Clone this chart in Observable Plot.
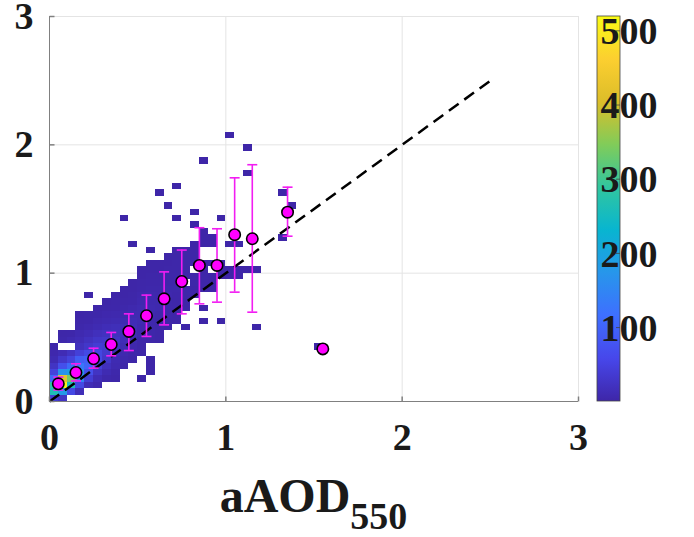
<!DOCTYPE html>
<html><head><meta charset="utf-8">
<script src="https://cdn.jsdelivr.net/npm/d3@7"></script>
<script src="https://cdn.jsdelivr.net/npm/@observablehq/plot@0.6"></script>
<style>body{margin:0;background:#fff;} #chart{width:694px;height:537px;}</style>
</head><body><div id="chart"></div>
<script>
// ---------- data ----------
const BIN = 0.05; // 2-D histogram bin size (both axes)
// dense columns: x-bin index, first y-bin index, counts of consecutive y-bins (0 = empty)
const colI  = [0,1,2,3,4,5,6,7,8,9,10,11,12,13,14,15,16,17,18,19];
const colJ0 = [0,0,1,1,2,2,3,3,5,6,7,4,9,11,12,14,16,17,17,19];
const colCounts = [
  [40,260,280,110,50,25,10,5,3],
  [25,180,510,420,170,70,30,12,0,4,2],
  [60,260,340,190,110,50,25,0,8,3],
  [15,60,150,170,130,90,45,20,12,8,4,2,1],
  [12,40,70,100,95,60,30,20,12,6,3,2,0,0,1],
  [5,12,25,45,60,55,40,28,18,10,6,3,1],
  [4,10,18,30,35,35,30,22,14,8,5,2,1],
  [2,4,8,10,15,20,25,20,16,10,6,3,2,1],
  [2,4,6,10,14,16,14,10,6,4,2,1,1],
  [1,3,5,8,12,13,12,9,6,3,2,1,1],
  [1,2,3,5,7,9,10,9,7,5,3,2,1,1],
  [1,1,1,0,0,2,3,4,5,7,8,7,6,4,3,2,1,1],
  [1,1,2,3,4,6,6,5,4,3,2,1,1],
  [1,1,2,3,4,5,4,3,2,2,1,1],
  [1,1,2,2,3,4,3,3,2,2,1,1],
  [1,1,2,2,0,3,2,2,1,1],
  [1,1,2,2,0,2,1,1,1],
  [1,2,2,1,1,0,0,1,1,1],
  [1,1,1,0,1,0,0,1,1],
  [1,1,1]
];
// isolated cells
const isoI = [8,9,10,11,12,13,14,14,15,16,16,17,17,17,19,19,20,20,20,20,21,21,21,22,22,22,23,23,26,26,27,30];
const isoJ = [28,24,3,23,32,30,28,33,11,27,29,12,14,37,12,28,19,20,24,41,19,20,24,20,35,39,11,20,25,32,30,8];
const isoN = [1,1,1,1,1,1,1,1,1,1,1,1,1,1,1,1,1,1,1,1,1,1,1,1,1,1,1,1,1,1,1,1];
// binned means with error bars
const meanX = [0.05,0.15,0.25,0.35,0.45,0.55,0.65,0.75,0.85,0.95,1.05,1.15,1.35,1.55];
const meanY = [0.138,0.226,0.333,0.444,0.546,0.668,0.80,0.935,1.06,1.06,1.30,1.268,1.475,0.41];
const errLo = [0.09,0.16,0.26,0.356,0.397,0.507,0.597,0.683,0.761,0.774,0.852,0.696,1.288,0.41];
const errHi = [0.19,0.294,0.415,0.538,0.683,0.829,1.01,1.18,1.354,1.346,1.743,1.845,1.67,0.41];
const oneToOne = [0, 2.5];
const xTicks = [0,1,2,3];
const yTicks = [0,1,2,3];
const cbTicks = [100,200,300,400,500];
const cbDomain = [1,520];
const parula = ["#3e26a8","#4747eb","#3e6fff","#2796eb","#08b5d0","#31c69f","#81cc59","#dcbd29","#fccf30","#f9fb15"];
const xLabel = "aAOD", xLabelSub = "550";

// ---------- build tables ----------
const cells = [];
colI.forEach((i, k) => colCounts[k].forEach((n, m) => {
  if (n > 0) cells.push({i, j: colJ0[k] + m, n});
}));
isoI.forEach((i, k) => cells.push({i, j: isoJ[k], n: isoN[k]}));
cells.forEach(c => { c.x1 = c.i * BIN; c.x2 = (c.i + 1) * BIN; c.y1 = c.j * BIN; c.y2 = (c.j + 1) * BIN; });
const means = meanX.map((x, k) => ({x, y: meanY[k], lo: errLo[k], hi: errHi[k]}));
const capSymbol = {draw(ctx) { ctx.moveTo(-5, 0); ctx.lineTo(5, 0); }};
const tickUp = {draw(ctx) { ctx.moveTo(0, 0); ctx.lineTo(0, -5); }};
const tickRight = {draw(ctx) { ctx.moveTo(0, 0); ctx.lineTo(5, 0); }};
const magenta = "#f21df2";
const fmt = d3.format("d");

const chart = Plot.plot({
  width: 694, height: 537,
  marginLeft: 49, marginRight: 116, marginTop: 16, marginBottom: 136,
  x: {domain: [0, 3]},
  y: {domain: [0, 3]},
  color: {type: "linear", domain: cbDomain, interpolate: d3.interpolateRgbBasis(parula)},
  style: {fontFamily: "'Liberation Serif', 'Times New Roman', serif", fontWeight: "bold", background: "white", color: "#1a1a1a"},
  marks: [
    Plot.gridX(xTicks.slice(1), {stroke: "#e4e4e4", strokeOpacity: 1}),
    Plot.gridY(yTicks.slice(1), {stroke: "#e4e4e4", strokeOpacity: 1}),
    Plot.rect(cells, {x1: "x1", x2: "x2", y1: "y1", y2: "y2", fill: "n", shapeRendering: "crispEdges"}),
    Plot.link([{a: oneToOne[0], b: oneToOne[1]}], {x1: "a", y1: "a", x2: "b", y2: "b", stroke: "black", strokeWidth: 2.5, strokeDasharray: "12,7"}),
    Plot.ruleX(means, {x: "x", y1: "lo", y2: "hi", stroke: magenta, strokeWidth: 1.6}),
    Plot.dot(means, {x: "x", y: "lo", symbol: capSymbol, r: 5, stroke: magenta, strokeWidth: 1.6, fill: "none"}),
    Plot.dot(means, {x: "x", y: "hi", symbol: capSymbol, r: 5, stroke: magenta, strokeWidth: 1.6, fill: "none"}),
    Plot.dot(means, {x: "x", y: "y", r: 5.7, fill: "#ff00ff", stroke: "black", strokeWidth: 1.6}),
    Plot.ruleX([0], {stroke: "#808080"}),
    Plot.ruleY([0], {stroke: "#808080"}),
    Plot.dot(xTicks, {x: d => d, y: () => 0, symbol: tickUp, r: 5, stroke: "#808080", fill: "none"}),
    Plot.dot(yTicks, {x: () => 0, y: d => d, symbol: tickRight, r: 5, stroke: "#808080", fill: "none"}),
    Plot.axisX(xTicks, {tickSize: 0, tickPadding: 22, fontSize: 38, label: null, fill: "#1a1a1a", tickFormat: fmt}),
    Plot.axisY(yTicks, {tickSize: 0, tickPadding: 16, fontSize: 38, label: null, fill: "#1a1a1a", tickFormat: fmt})
  ]
});
document.getElementById("chart").appendChild(chart);

// ---------- x label with subscript ----------
const svg = d3.select(chart);
const xs = chart.scale("x"), ys = chart.scale("y");
const lab = svg.append("text")
  .attr("x", xs.apply(1.5)).attr("y", 512)
  .attr("text-anchor", "middle").attr("font-size", 48).attr("font-weight", "bold")
  .attr("font-family", "'Liberation Serif', serif").attr("fill", "#1a1a1a");
lab.append("tspan").text(xLabel);
lab.append("tspan").attr("dy", 17).attr("font-size", 38).text(xLabelSub);

// ---------- colorbar ----------
const cbX = 597, cbW = 23;
const cb = d3.scaleLinear(cbDomain, [ys.apply(0), ys.apply(3)]);
const grad = svg.append("defs").append("linearGradient").attr("id", "parula")
  .attr("x1", 0).attr("y1", 1).attr("x2", 0).attr("y2", 0);
parula.forEach((c, k) => grad.append("stop").attr("offset", k / (parula.length - 1)).attr("stop-color", c));
svg.append("rect").attr("x", cbX).attr("y", cb(cbDomain[1])).attr("width", cbW)
  .attr("height", cb(cbDomain[0]) - cb(cbDomain[1])).attr("fill", "url(#parula)")
  .attr("stroke", "#444").attr("stroke-width", 0.8);
cbTicks.forEach(t => {
  svg.append("line").attr("x1", cbX + cbW - 4).attr("x2", cbX + cbW).attr("y1", cb(t)).attr("y2", cb(t))
    .attr("stroke", "#444").attr("stroke-width", 0.8);
  svg.append("text").attr("x", 629).attr("y", cb(t)).attr("dy", "0.35em")
    .attr("font-size", 38).attr("font-weight", "bold").attr("font-family", "'Liberation Serif', serif")
    .attr("fill", "#1a1a1a").text(t);
});
</script>
</body></html>
